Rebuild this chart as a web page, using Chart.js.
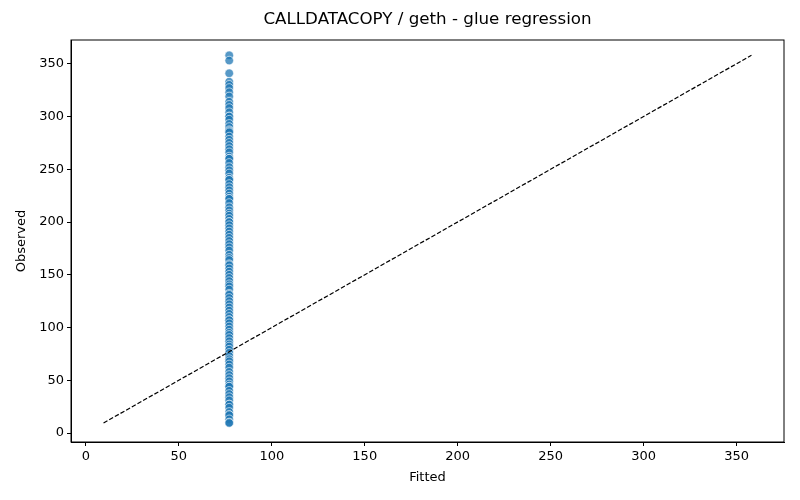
<!DOCTYPE html>
<html>
<head>
<meta charset="utf-8">
<script src="https://cdn.jsdelivr.net/npm/chart.js@4/dist/chart.umd.min.js"></script>
<style>
  html, body { margin: 0; padding: 0; background: #fff; }
  #wrap { width: 800px; height: 500px; }
</style>
</head>
<body>
<div id="wrap"><canvas id="chart"></canvas></div>
<script>
// chart text
const chartTitle = 'CALLDATACOPY / geth - glue regression';
const xTitle = 'Fitted';
const yTitle = 'Observed';
const tickValues = [0, 50, 100, 150, 200, 250, 300, 350];

// every point sits at the same fitted value
const fittedValue = 77.1;

// observed values read from the column of points
const observed = [
    358, 353, 341, 333, 330, 327, 323, 319, 314, 311, 308, 304, 300, 300, 297,
    293, 290, 287, 286, 285, 281, 278, 275, 272, 269, 266, 262, 260, 260, 256,
    252, 249, 246, 242, 240, 240, 236, 233, 230, 227, 224, 222, 222, 218, 214,
    211, 208, 206, 203, 200, 200, 197, 194, 191, 188, 185, 182, 179, 176, 173,
    169, 166, 164, 160, 159, 156, 153, 150, 147, 144, 141, 139, 136, 132, 131,
    128, 125, 122, 119, 116, 113, 110, 107, 107, 104, 101, 98, 95, 93, 90,
    87, 84, 82, 79, 76, 73, 70, 68, 65, 62, 58, 55, 52, 49, 46,
    44, 44, 40, 37, 34, 31, 27, 27, 24, 20, 17, 17, 13, 10, 9.5
];

// identity reference line ends
const lineX = [9.5, 358];
const lineY = [9.5, 358];

const scatterData = observed.map(v => ({ x: fittedValue, y: v }));
const lineData = lineX.map((x, i) => ({ x: x, y: lineY[i] }));

// box around the plot area and the title centred over it, like matplotlib
const frame = {
    id: 'frame',
    afterDraw(chart) {
        const a = chart.chartArea;
        const c = chart.ctx;
        c.save();
        c.strokeStyle = '#000';
        c.lineWidth = 1;
        c.strokeRect(a.left, a.top, a.right - a.left, a.bottom - a.top);
        c.fillStyle = '#000';
        c.font = '16.7px "DejaVu Sans"';
        c.textAlign = 'center';
        c.textBaseline = 'middle';
        c.fillText(chartTitle, (a.left + a.right) / 2, 20);
        c.restore();
    }
};

const keepRound = scale => {
    scale.ticks = tickValues.map(v => ({ value: v }));
};

const ctx = document.getElementById('chart').getContext('2d');
new Chart(ctx, {
    type: 'scatter',
    data: {
        datasets: [{
            label: 'points',
            data: scatterData,
            backgroundColor: 'rgba(31,119,180,0.75)',
            borderColor: 'rgba(255,255,255,0.75)',
            borderWidth: 0.8,
            pointRadius: 4.3,
            order: 2
        }, {
            label: 'identity',
            type: 'line',
            data: lineData,
            borderColor: '#000',
            borderWidth: 1.2,
            borderDash: [4.5, 2],
            pointRadius: 0,
            fill: false,
            order: 1
        }]
    },
    options: {
        responsive: true,
        maintainAspectRatio: false,
        animation: false,
        devicePixelRatio: 1,
        layout: { padding: { left: 0, right: 16, top: 40, bottom: 0 } },
        plugins: {
            legend: { display: false },
            tooltip: { enabled: false },
            title: { display: false }
        },
        scales: {
            x: {
                type: 'linear',
                min: -8,
                max: 375.5,
                afterBuildTicks: keepRound,
                afterFit(scale) { scale.height = 58; },
                grid: { display: true, drawOnChartArea: false, drawTicks: true, tickLength: 4, color: '#000' },
                border: { display: true, color: '#000' },
                ticks: {
                    color: '#000',
                    padding: 3,
                    maxRotation: 0,
                    font: { family: 'DejaVu Sans', size: 13 }
                },
                title: {
                    display: true,
                    text: xTitle,
                    color: '#000',
                    font: { family: 'DejaVu Sans', size: 13 },
                    padding: { top: 0, bottom: 15 }
                }
            },
            y: {
                type: 'linear',
                min: -8.5,
                max: 372.5,
                afterBuildTicks: keepRound,
                afterFit(scale) { scale.width = 71; },
                grid: { display: true, drawOnChartArea: false, drawTicks: true, tickLength: 4, color: '#000' },
                border: { display: true, color: '#000' },
                ticks: {
                    color: '#000',
                    padding: 3,
                    font: { family: 'DejaVu Sans', size: 13 }
                },
                title: {
                    display: true,
                    text: yTitle,
                    color: '#000',
                    font: { family: 'DejaVu Sans', size: 13 },
                    padding: { top: 14, bottom: 0 }
                }
            }
        }
    },
    plugins: [frame]
});
</script>
</body>
</html>
